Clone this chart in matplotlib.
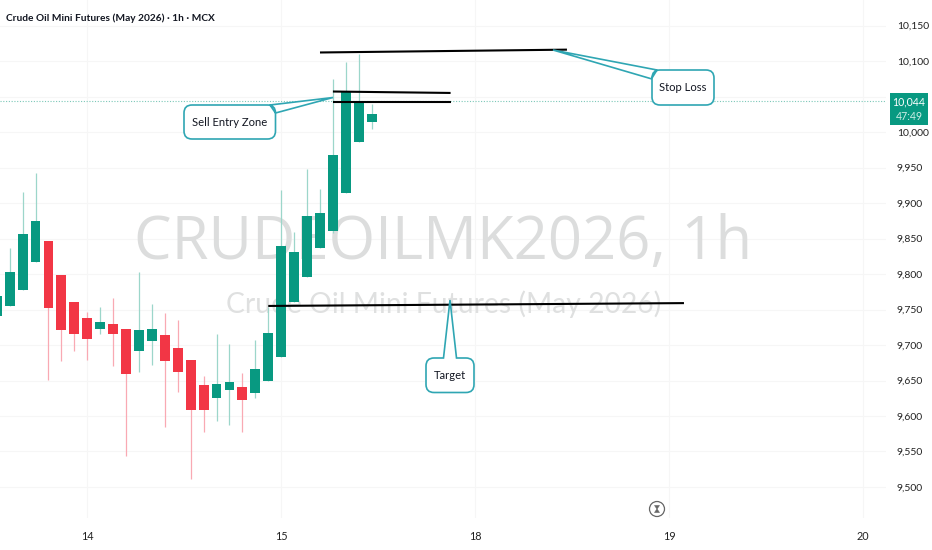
import matplotlib
matplotlib.use("Agg")
import matplotlib.pyplot as plt
from matplotlib.path import Path
from matplotlib.patches import PathPatch, Polygon

W, H = 932, 550
FONT = "Lato"
plt.rcParams["font.family"] = [FONT, "DejaVu Sans"]

# OHLC (index 0 = partly cut candle at the left edge)
opens = [9741, 9755, 9778, 9817, 9846, 9799, 9760, 9738, 9722, 9729, 9722, 9691, 9705, 9714, 9696,
         9679, 9644, 9625, 9636, 9641, 9632, 9649, 9683, 9761, 9796, 9837, 9861, 9914, 9986, 10014]
closes = [9769, 9803, 9856, 9874, 9752, 9721, 9715, 9708, 9733, 9716, 9659, 9721, 9722, 9677, 9662,
          9609, 9608, 9645, 9648, 9623, 9666, 9717, 9840, 9831, 9881, 9886, 9967, 10058, 10043, 10025]
highs = [9769, 9837, 9915, 9942, 9846, 9799, 9760, 9746, 9753, 9766, 9722, 9803, 9758, 9745, 9735,
         9679, 9657, 9716, 9701, 9660, 9707, 9754, 9919, 9859, 9948, 9920, 10074, 10098, 10110, 10039]
lows = [9741, 9755, 9778, 9817, 9651, 9677, 9692, 9679, 9716, 9671, 9543, 9662, 9672, 9585, 9634,
        9511, 9577, 9593, 9587, 9578, 9625, 9649, 9683, 9761, 9796, 9837, 9858, 9914, 9986, 10004]

y_ticks = [9500, 9550, 9600, 9650, 9700, 9750, 9800, 9850, 9900, 9950, 10000, 10100, 10150]
grid_prices = [9500, 9550, 9600, 9650, 9700, 9750, 9800, 9850, 9900, 9950, 10000, 10050, 10100, 10150]
x_tick_pos = [7, 22, 37, 52, 67]
x_tick_labels = ["14", "15", "18", "19", "20"]

last_price = 10044
last_label = "10,044"
countdown = "47:49"
title = "Crude Oil Mini Futures (May 2026) · 1h · MCX"
watermark_main = "CRUDEOILMK2026, 1h"
watermark_sub = "Crude Oil Mini Futures (May 2026)"

# trend lines: (x0, price0, x1, price1)
stop_line = (25.0, 10112, 44.1, 10116)
entry_top = (26.0, 10057, 35.1, 10055)
entry_low = (26.0, 10042, 35.1, 10042)
target_line = (21.0, 9755, 53.15, 9759)

GREEN, RED = "#089981", "#f23645"
WICK_G, WICK_R = "#9cd6ca", "#f9a9b3"

fig = plt.figure(figsize=(W / 100, H / 100), dpi=100, facecolor="white")
ax = fig.add_axes([0, 1 - 518 / H, 886 / W, 518 / H])
ax.set_xlim((0 + 3.26) / 12.93, (886 + 3.26) / 12.93)
ax.set_ylim(9500 - 31 * 50 / 35.5, 9500 + 487 * 50 / 35.5)
for s in ax.spines.values():
    s.set_visible(False)

ax.set_yticks(grid_prices)
ax.set_yticklabels(["" if p not in y_ticks else f"{p:,}" for p in grid_prices])
ax.yaxis.tick_right()
ax.tick_params(axis="y", length=0, pad=7.9, labelsize=7.5, labelcolor="#222222")
ax.set_xticks(x_tick_pos)
ax.set_xticklabels(x_tick_labels)
ax.tick_params(axis="x", length=0, pad=9, labelsize=7.8, labelcolor="#222222")
ax.grid(True, color="#f6f6f6", lw=0.8, zorder=0)
ax.set_axisbelow(True)

ax.text(443 / 886, 1 - 259 / 518, watermark_main, transform=ax.transAxes, ha="center", va="baseline",
        fontsize=43, color="#dcdddd", zorder=1, family=["Open Sans", "DejaVu Sans"])
ax.text(444 / 886, 1 - 304 / 518, watermark_sub, transform=ax.transAxes, ha="center", va="center",
        fontsize=20.3, color="#dfe0e0", zorder=1)

ax.axhline(last_price, color="#7cc8b8", lw=0.8, ls=(0, (1, 1.5)), zorder=2)

for i, (o, c, h, l) in enumerate(zip(opens, closes, highs, lows)):
    up = c >= o
    ax.vlines(i, l, h, color=WICK_G if up else WICK_R, lw=0.9, zorder=3)
    ax.bar(i, abs(c - o), bottom=min(o, c), width=0.76, color=GREEN if up else RED, lw=0, zorder=4)

for x0, p0, x1, p1 in (stop_line, entry_top, entry_low, target_line):
    ax.plot([x0, x1], [p0, p1], color="black", lw=1.5, solid_capstyle="butt", zorder=5)


def px(x, y):
    return x / W, 1 - y / H


def callout(box, pointer, side, text):
    """Rounded box with a pointer leaving one edge; all in reference pixels."""
    x0, y0, x1, y1 = box
    r = 8
    a, tip, b = pointer
    v = [(x0 + r, y0)]
    c = [Path.MOVETO]
    if side == "top":
        v += [a, tip, b]
        c += [Path.LINETO] * 3
    v += [(x1 - r, y0), (x1, y0), (x1, y0 + r)]
    c += [Path.LINETO, Path.CURVE3, Path.CURVE3]
    if side == "right":
        v += [a, tip, b]
        c += [Path.LINETO] * 3
    v += [(x1, y1 - r), (x1, y1), (x1 - r, y1), (x0 + r, y1), (x0, y1), (x0, y1 - r)]
    c += [Path.LINETO, Path.CURVE3, Path.CURVE3, Path.LINETO, Path.CURVE3, Path.CURVE3]
    if side == "left":
        v += [a, tip, b]
        c += [Path.LINETO] * 3
    v += [(x0, y0 + r), (x0, y0), (x0 + r, y0), (x0 + r, y0)]
    c += [Path.LINETO, Path.CURVE3, Path.CURVE3, Path.CLOSEPOLY]
    fv = [px(*p) for p in v]
    fig.add_artist(PathPatch(Path(fv, c), transform=fig.transFigure, fc="white", ec="#2fa6b3", lw=1.2, zorder=6))
    tx, ty = px((x0 + x1) / 2, (y0 + y1) / 2)
    fig.text(tx, ty, text, ha="center", va="center", fontsize=8.1, color="#131722", zorder=7)


callout((184, 105, 275.5, 139), ((270, 105), (333, 97.5), (275.5, 113)), "right", "Sell Entry Zone")
callout((652, 70, 714, 105), ((652, 79), (553, 50), (657, 70)), "left", "Stop Loss")
callout((426, 358, 474, 392.5), ((443.5, 358), (450, 300), (456.5, 358)), "top", "Target")

# last price tag
lx, ly = px(890, 125)
fig.patches.append(plt.Rectangle((lx, ly), 38 / W, 32 / H, transform=fig.transFigure, fc=GREEN, ec="none", zorder=8))
fig.text(*px(909, 102), last_label, ha="center", va="center", fontsize=7.6, color="white", zorder=9)
fig.text(*px(909, 116), countdown, ha="center", va="center", fontsize=7.6, color="#cdeee6", zorder=9)

fig.text(*px(6, 18), title, ha="left", va="center", fontsize=7.3, fontweight="bold", color="#131722")

# hourglass badge
fig.add_artist(plt.Circle((657, H - 509), 7.5, transform=None, fc="white", ec="#666666", lw=0.9, zorder=6))
fig.add_artist(Polygon([px(654.5, 505.5), px(659.5, 505.5), px(654.5, 512.5), px(659.5, 512.5)], closed=True,
                       transform=fig.transFigure, fc="#666666", ec="#666666", lw=0.4, zorder=7))

fig.savefig("out.png", dpi=100)
